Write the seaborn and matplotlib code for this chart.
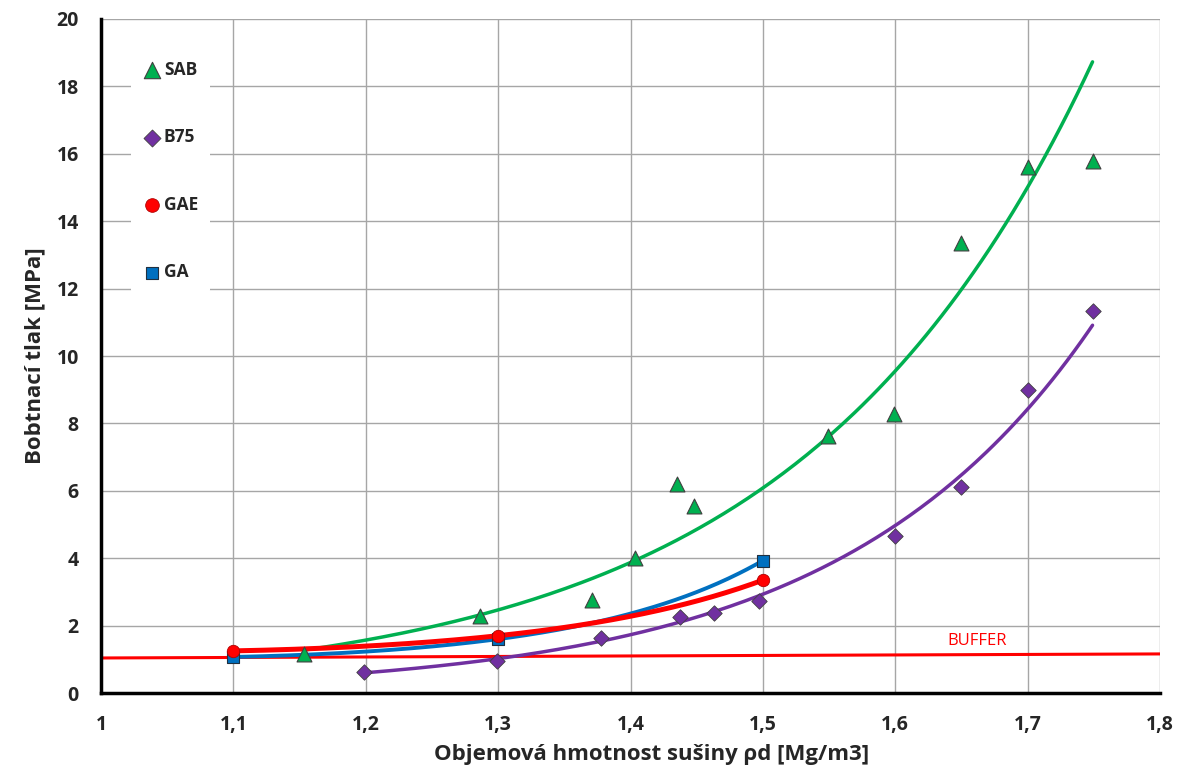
import numpy as np
import pandas as pd
import matplotlib
matplotlib.use("Agg")
import matplotlib.pyplot as plt
import seaborn as sns

# Measured swelling pressure vs. dry density
sab_x = [1.153, 1.286, 1.371, 1.403, 1.435, 1.448, 1.549, 1.599, 1.650, 1.700, 1.749]
sab_y = [1.16, 2.28, 2.76, 4.00, 6.20, 5.55, 7.62, 8.27, 13.35, 15.60, 15.80]

b75_x = [1.199, 1.299, 1.378, 1.437, 1.463, 1.497, 1.600, 1.650, 1.700, 1.749]
b75_y = [0.62, 0.95, 1.63, 2.25, 2.37, 2.73, 4.66, 6.11, 9.00, 11.33]

gae_x = [1.1, 1.3, 1.5]
gae_y = [1.25, 1.70, 3.35]

ga_x = [1.1, 1.3, 1.5]
ga_y = [1.07, 1.60, 3.93]

buffer_x = [1.0, 1.8]
buffer_y = [1.04, 1.16]

x_ticks = [1.0, 1.1, 1.2, 1.3, 1.4, 1.5, 1.6, 1.7, 1.8]
x_ticklabels = ["1", "1,1", "1,2", "1,3", "1,4", "1,5", "1,6", "1,7", "1,8"]
y_ticks = [0, 2, 4, 6, 8, 10, 12, 14, 16, 18, 20]

GREEN = "#00B050"
PURPLE = "#7030A0"
RED = "#FF0000"
BLUE = "#0070C0"

sns.set_style("whitegrid")
plt.rcParams["font.family"] = ["Open Sans", "DejaVu Sans"]
plt.rcParams["font.weight"] = "bold"

fig = plt.figure(figsize=(11.83, 7.69), dpi=100)
ax = fig.add_axes([0.0854, 0.0988, 0.8952, 0.8765])


def exp_trend(xs, ys, n=200):
    """Least-squares exponential trend y = a*exp(b*x) over the data range."""
    b, ln_a = np.polyfit(xs, np.log(ys), 1)
    grid = np.linspace(min(xs), max(xs), n)
    return pd.DataFrame({"x": grid, "y": np.exp(ln_a) * np.exp(b * grid)})


def smooth_through(xs, ys, n=200):
    """Smooth, monotone curve passing through the given points (log-quadratic)."""
    coeffs = np.polyfit(xs, np.log(ys), len(xs) - 1)
    grid = np.linspace(min(xs), max(xs), n)
    return pd.DataFrame({"x": grid, "y": np.exp(np.polyval(coeffs, grid))})


# Reference buffer line
sns.lineplot(x=buffer_x, y=buffer_y, ax=ax, color=RED, linewidth=2.2, zorder=2)
ax.text(1.662, 1.53, "BUFFER", color=RED, fontsize=12, fontweight="normal",
        ha="center", va="center")

# Trend curves
sab_fit = exp_trend(sab_x, sab_y)
b75_fit = exp_trend(b75_x, b75_y)
sns.lineplot(data=sab_fit, x="x", y="y", ax=ax, color=GREEN, linewidth=2.5, zorder=3)
sns.lineplot(data=b75_fit, x="x", y="y", ax=ax, color=PURPLE, linewidth=2.5, zorder=3)
sns.lineplot(data=smooth_through(ga_x, ga_y), x="x", y="y", ax=ax,
             color=BLUE, linewidth=2.8, zorder=3)
sns.lineplot(data=smooth_through(gae_x, gae_y), x="x", y="y", ax=ax,
             color=RED, linewidth=3.6, zorder=4)

# Measured points
sns.scatterplot(x=sab_x, y=sab_y, ax=ax, marker="^", s=115, color=GREEN,
                edgecolor="#404040", linewidth=0.8, zorder=5, label="SAB")
sns.scatterplot(x=b75_x, y=b75_y, ax=ax, marker="D", s=62, color=PURPLE,
                edgecolor="#404040", linewidth=0.6, zorder=5, label="B75")
sns.scatterplot(x=gae_x, y=gae_y, ax=ax, marker="o", s=80, color=RED,
                edgecolor="#B00000", linewidth=0.6, zorder=6, label="GAE")
sns.scatterplot(x=ga_x, y=ga_y, ax=ax, marker="s", s=68, color=BLUE,
                edgecolor="#203040", linewidth=0.8, zorder=5, label="GA")

ax.set_xlim(1.0, 1.8)
ax.set_ylim(0, 20)
ax.set_xticks(x_ticks)
ax.set_xticklabels(x_ticklabels)
ax.set_yticks(y_ticks)

ax.grid(True, color="#A6A6A6", linewidth=1.0)
for side in ("top", "right"):
    ax.spines[side].set_visible(False)
for side in ("left", "bottom"):
    ax.spines[side].set_visible(True)
    ax.spines[side].set_color("black")
    ax.spines[side].set_linewidth(2.5)

ax.tick_params(axis="both", which="major", direction="out", length=6, width=2,
               color="black", labelsize=14, pad=10)
for lab in ax.get_xticklabels() + ax.get_yticklabels():
    lab.set_fontweight("bold")

ax.set_xlabel("Objemová hmotnost sušiny ρd [Mg/m3]", fontsize=16,
              fontweight="bold", labelpad=6, x=0.52)
ax.set_ylabel("Bobtnací tlak [MPa]", fontsize=16, fontweight="bold", labelpad=8)

leg = ax.legend(loc="upper left", bbox_to_anchor=(0.02, 0.969), frameon=True,
                facecolor="white", edgecolor="none", framealpha=1.0,
                labelspacing=2.85, handletextpad=0.2, handlelength=1.0,
                borderpad=0.7, markerscale=1.1,
                prop={"weight": "bold", "size": 12.5})
leg.set_zorder(10)

fig.savefig("out.png", dpi=100)
